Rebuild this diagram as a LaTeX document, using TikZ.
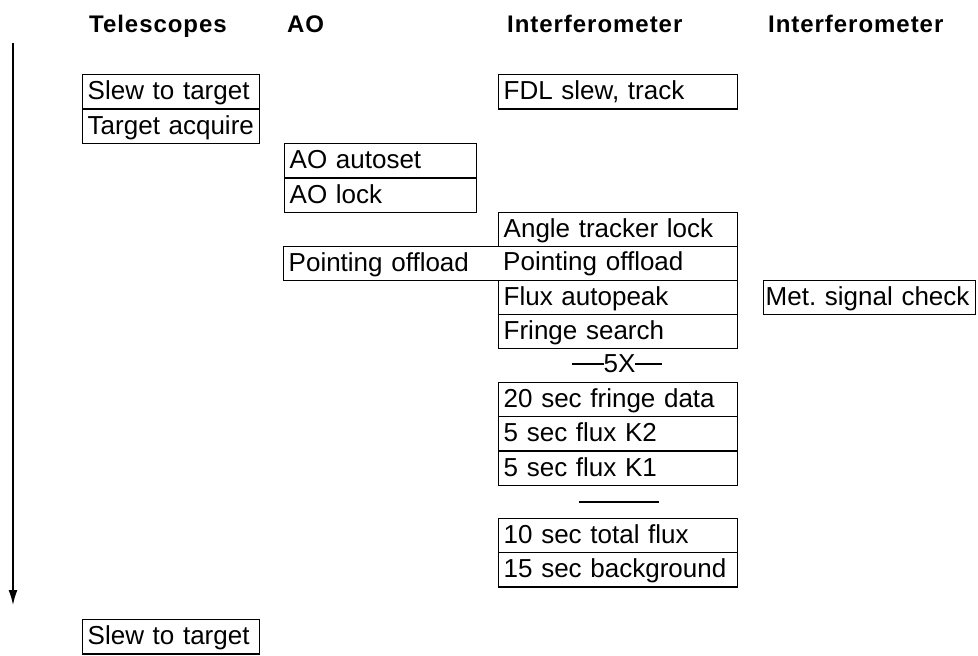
\documentclass[tikz,border=0pt]{standalone}
\usepackage{fontspec}
\setmainfont{Liberation Sans}
\usepackage{tikz}
\usetikzlibrary{arrows.meta}

\tikzset{
  cell/.style={anchor=north west, text width=#1, align=left, inner xsep=5pt, inner ysep=0pt,
    minimum height=34.4pt, text height=20pt, text depth=4pt, font=\fontsize{26}{30}\selectfont},
  task/.style={cell=#1, draw, line width=1.4pt},
  colhead/.style={anchor=base west, inner sep=0pt,
    font=\fontsize{24}{28}\selectfont\bfseries\addfontfeature{LetterSpace=4}}
}

\begin{document}
\begin{tikzpicture}[x=1pt, y=-1pt]
    \useasboundingbox (0,0) rectangle (978,656);

    % Column headings
    \node[colhead] (hTel) at (89,32) {Telescopes};
    \node[colhead] (hAO) at (287,32) {AO};
    \node[colhead] (hIF) at (507,32) {Interferometer};
    \node[colhead] (hMet) at (768,32) {Interferometer};

    % Time axis
    \coordinate (tStart) at (13,43);
    \coordinate (tEnd) at (13,605);
    \draw[line width=1.5pt, -{Latex[length=15pt, width=9pt]}] (tStart) -- (tEnd);

    % Telescopes
    \node[task=167pt] (slew) at (82,74) {Slew to target};
    \node[task=167pt] (acq) at (82,108.4) {Target acquire};
    \node[task=167pt] (slewNext) at (82,619) {Slew to target};

    % AO
    \node[task=182pt] (aoSet) at (284,143) {AO autoset};
    \node[task=182pt] (aoLock) at (284,177.5) {AO lock};

    % Interferometer
    \node[task=229pt] (fdl) at (498,74) {FDL slew, track};
    \node[task=229pt] (angle) at (498,211.5) {Angle tracker lock};
    \node[task=444pt] (offAO) at (283,245.5) {Pointing offload};
    \node[cell=229pt] (offIF) at (498,245.5) {Pointing offload};
    \node[task=229pt] (peak) at (498,279.5) {Flux autopeak};
    \node[task=229pt] (search) at (498,313.5) {Fringe search};

    % Repeated sequence
    \node[font=\fontsize{26}{30}\selectfont, inner sep=0pt] (rep) at (617,364)
      {\rule[8pt]{32pt}{2pt}5X\rule[8pt]{27pt}{2pt}};
    \node[task=229pt] (fringe) at (498,381.5) {20 sec fringe data};
    \node[task=229pt] (fluxB) at (498,416) {5 sec flux K2};
    \node[task=229pt] (fluxA) at (498,450.5) {5 sec flux K1};
    \draw[line width=2pt] (579,502) -- (659,502);
    \node[task=229pt] (total) at (498,517.5) {10 sec total flux};
    \node[task=229pt] (bkg) at (498,552) {15 sec background};

    % Metrology
    \node[task=208pt, inner xsep=2pt] (met) at (763,279.5) {\mbox{Met.\ signal check}};
\end{tikzpicture}
\end{document}
